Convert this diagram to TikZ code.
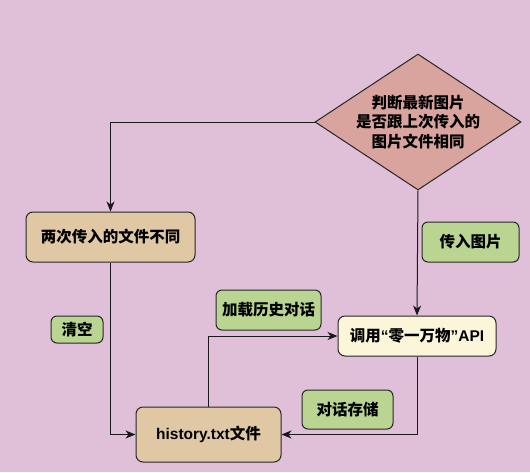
\documentclass[tikz,border=0pt]{standalone}
\usepackage{fontspec}
\setmainfont{Noto Sans CJK SC}
\newfontfamily\lat{Liberation Sans}
\usetikzlibrary{shapes.geometric,arrows.meta}
\definecolor{bgc}{HTML}{E0BFD9}
\definecolor{diam}{HTML}{DAA49E}
\definecolor{tan}{HTML}{E0C8A4}
\definecolor{grn}{HTML}{B9D591}
\definecolor{cream}{HTML}{FBF6DA}
\begin{document}
\begin{tikzpicture}[x=1pt,y=-1pt,
  every node/.style={font=\fontsize{15.5}{19.5}\selectfont\bfseries, text=black, inner sep=0pt},
  box/.style={draw=black!85, line width=1pt, rounded corners=7pt, align=center},
  lbl/.style={draw=black!85, line width=1pt, rounded corners=6pt, fill=grn, align=center},
  conn/.style={draw=black!90, line width=1pt, -{Stealth[length=10pt,width=8pt,inset=3pt]}},
  plain/.style={draw=black!90, line width=1pt}]
\fill[bgc] (0,0) rectangle (530,472);
\useasboundingbox (0,0) rectangle (530,472);
\node[diamond, draw=black!85, line width=1pt, fill=diam, minimum width=206pt, minimum height=136pt, aspect=1.5147, inner sep=0pt, align=center] (d) at (418,122) {判断最新图片\\是否跟上次传入的\\图片文件相同};
\node[box, fill=tan, minimum width=169pt, minimum height=50pt] (diff) at (110.5,237) {两次传入的文件不同};
\node[box, fill=tan, minimum width=145pt, minimum height=55pt] (hist) at (208.5,434.5) {{\lat history.txt}文件};
\node[box, fill=cream, minimum width=158pt, minimum height=40pt] (api) at (417,336) {调用{\lat “}零一万物{\lat ”API}};
\node[lbl, minimum width=97pt, minimum height=40pt] (l1) at (470.5,242) {传入图片};
\node[lbl, minimum width=52pt, minimum height=27pt] (l2) at (77,329.5) {清空};
\node[lbl, minimum width=105pt, minimum height=40pt] (l3) at (268.5,310) {加载历史对话};
\node[lbl, minimum width=91pt, minimum height=39pt] (l4) at (347.5,409.5) {对话存储};
\draw[conn] (d.west) -| (diff.north);
\draw[conn] (d.south) -- (api.north);
\draw[conn] (diff.south) |- (hist.west);
\draw[conn] (hist.north) |- (api.west);
\draw[conn] (api.south) |- (hist.east);
\end{tikzpicture}
\end{document}
